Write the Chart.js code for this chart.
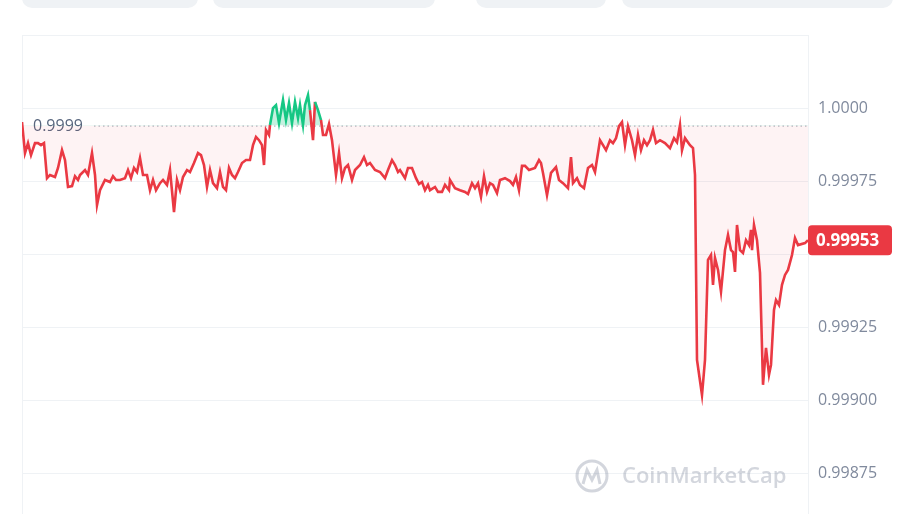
<!DOCTYPE html>
<html><head><meta charset="utf-8">
<script src="https://cdn.jsdelivr.net/npm/chart.js@4"></script>
<style>
html,body{margin:0;padding:0;background:#fff;overflow:hidden}
#wrap{position:relative;width:901px;height:514px;overflow:hidden}
.tab{position:absolute;top:-12px;height:20px;background:#eff2f5;border-radius:10px;z-index:2}
canvas{position:absolute;left:0;top:0}
</style></head><body>
<div id="wrap">
<div class="tab" style="left:22px;width:176px"></div>
<div class="tab" style="left:213px;width:222px"></div>
<div class="tab" style="left:476px;width:130px"></div>
<div class="tab" style="left:622px;width:271px"></div>
<canvas id="c" width="901" height="535"></canvas>
</div>
<script>
const times = [0,3,6,9,13,16,19,22,25,28,33,36,40,43,46,50,53,56,58,63,66,70,73,75,78,83,88,91,94,98,103,106,109,112,115,118,121,125,128,131,134,138,141,145,148,152,155,158,161,165,168,172,176,179,182,185,188,191,195,198,201,204,207,210,213,216,220,224,228,231,234,237,240,242,244,247,248,251,254,257,261,264,267,270,273,276,278,281,283,286,288,291,293,296,299,301,304,307,310,314,317,320,323,326,330,333,338,342,345,348,353,358,363,366,370,373,376,378,383,386,390,394,397,400,403,406,408,413,416,420,423,427,428,433,438,443,446,450,453,456,459,462,465,468,471,475,478,483,488,491,494,497,500,503,507,513,517,519,521,525,529,534,537,541,546,549,551,555,558,562,566,570,573,576,578,581,584,588,591,594,597,600,603,606,610,613,616,619,622,625,628,631,634,638,643,648,652,655,658,660,663,668,671,673,675,680,683,686,689,691,693,696,699,703,706,709,711,713,715,718,721,724,727,729,730,732,735,738,741,744,747,749,752,754,757,760,763,766,770,773,776,783,786];
const prices = [0.999952,0.999846,0.999880,0.999839,0.999880,0.999880,0.999873,0.999880,0.999760,0.999771,0.999764,0.999795,0.999856,0.999822,0.999730,0.999733,0.999767,0.999754,0.999771,0.999788,0.999771,0.999846,0.999771,0.999668,0.999719,0.999754,0.999747,0.999767,0.999754,0.999754,0.999760,0.999788,0.999760,0.999795,0.999781,0.999829,0.999771,0.999771,0.999719,0.999754,0.999719,0.999743,0.999754,0.999737,0.999788,0.999644,0.999754,0.999719,0.999764,0.999788,0.999781,0.999812,0.999846,0.999839,0.999805,0.999730,0.999788,0.999743,0.999726,0.999781,0.999730,0.999719,0.999795,0.999771,0.999760,0.999781,0.999812,0.999822,0.999822,0.999873,0.999901,0.999890,0.999873,0.999805,0.999925,0.999908,0.999942,1.000000,1.000010,0.999949,1.000027,0.999959,1.000017,0.999949,1.000021,0.999966,1.000010,0.999942,1.000010,1.000044,0.999993,0.999890,1.000021,0.999993,0.999959,0.999908,0.999908,0.999945,0.999890,0.999771,0.999846,0.999760,0.999795,0.999805,0.999754,0.999788,0.999805,0.999832,0.999805,0.999812,0.999788,0.999781,0.999760,0.999788,0.999822,0.999805,0.999781,0.999788,0.999760,0.999795,0.999795,0.999760,0.999740,0.999747,0.999719,0.999737,0.999719,0.999730,0.999713,0.999713,0.999737,0.999719,0.999754,0.999726,0.999719,0.999713,0.999706,0.999743,0.999726,0.999743,0.999696,0.999767,0.999713,0.999743,0.999737,0.999709,0.999754,0.999760,0.999750,0.999737,0.999764,0.999719,0.999802,0.999802,0.999788,0.999795,0.999822,0.999812,0.999778,0.999702,0.999778,0.999798,0.999754,0.999743,0.999726,0.999832,0.999743,0.999760,0.999737,0.999726,0.999795,0.999805,0.999781,0.999846,0.999890,0.999873,0.999856,0.999890,0.999880,0.999897,0.999938,0.999952,0.999873,0.999938,0.999890,0.999839,0.999908,0.999856,0.999890,0.999873,0.999890,0.999925,0.999880,0.999890,0.999880,0.999863,0.999897,0.999883,0.999942,0.999856,0.999897,0.999873,0.999863,0.999771,0.999138,0.999018,0.999138,0.999480,0.999497,0.999395,0.999487,0.999446,0.999371,0.999514,0.999566,0.999514,0.999507,0.999439,0.999600,0.999514,0.999504,0.999548,0.999531,0.999583,0.999514,0.999600,0.999548,0.999436,0.999053,0.999179,0.999087,0.999121,0.999309,0.999343,0.999326,0.999395,0.999429,0.999446,0.999497,0.999555,0.999531,0.999538,0.999548];
const baseline = 0.99994;
const baseLabel = '0.9999';
const currentLabel = '0.99953';
const RED='#ea3943', GREEN='#16c784';

const overlay = {
  id:'overlay',
  beforeDatasetsDraw(chart){
    const {ctx, chartArea:a, scales:{y}} = chart;
    ctx.save();
    ctx.strokeStyle='#eff2f5'; ctx.lineWidth=1;
    [a.left+0.5, a.right+0.5].forEach(x=>{ctx.beginPath();ctx.moveTo(x,a.top);ctx.lineTo(x,a.bottom);ctx.stroke();});
    const by = y.getPixelForValue(baseline);
    ctx.strokeStyle='#a0a7b3'; ctx.setLineDash([1.5,3]);
    ctx.beginPath(); ctx.moveTo(a.left+72, by+0.5); ctx.lineTo(a.right, by+0.5); ctx.stroke();
    ctx.setLineDash([]);
    ctx.font='16px "Open Sans", Inter, sans-serif'; ctx.fillStyle='#58667e'; ctx.textBaseline='middle';
    ctx.fillText(baseLabel, a.left+11, by+1);
    ctx.font='600 22px "Open Sans", sans-serif'; ctx.fillStyle='rgba(128,138,157,0.35)';
    ctx.fillText('CoinMarketCap', 622, 477);
    ctx.strokeStyle='rgba(128,138,157,0.35)'; ctx.lineWidth=3;
    ctx.beginPath(); ctx.arc(592,476,15,0,Math.PI*2); ctx.stroke();
    ctx.beginPath(); ctx.moveTo(583,484); ctx.lineTo(587,470); ctx.lineTo(592,480); ctx.lineTo(597,470); ctx.lineTo(600,484); ctx.stroke();
    ctx.restore();
  },
  afterDraw(chart){
    const {ctx, scales:{y}} = chart;
    const v = prices[prices.length-1];
    const py = y.getPixelForValue(v);
    ctx.save();
    ctx.fillStyle=RED;
    ctx.beginPath(); ctx.roundRect(808, py-15, 84, 30, 4); ctx.fill();
    ctx.fillStyle='#fff'; ctx.font='bold 17px "Open Sans", sans-serif'; ctx.textBaseline='middle';
    ctx.fillText(currentLabel, 816, py+1);
    ctx.restore();
  }
};

new Chart(document.getElementById('c'), {
  type:'line',
  data:{datasets:[{
    data: times.map((t,i)=>({x:t,y:prices[i]})),
    borderColor:RED, borderWidth:2.6, pointRadius:0, tension:0,
    segment:{borderColor:c=> (c.p0.parsed.y>=baseline && c.p1.parsed.y>=baseline)?GREEN:RED},
    fill:{target:{value:baseline}, above:'rgba(22,199,132,0.25)', below:'rgba(234,57,67,0.06)'}
  }]},
  plugins:[overlay],
  options:{
    responsive:false, animation:false, devicePixelRatio:1,
    layout:{padding:{left:22,top:35,right:0,bottom:0}},
    plugins:{legend:{display:false}, tooltip:{enabled:false}},
    scales:{
      x:{type:'linear', min:0, max:786, display:false},
      y:{position:'right', min:0.998606, max:1.00025,
        afterFit(s){s.width=93;},
        afterBuildTicks(s){s.ticks=[0.99875,0.999,0.99925,0.9995,0.99975,1.0,1.00025].map(v=>({value:v}));},
        border:{display:false},
        grid:{color:'#eff2f5', drawTicks:false},
        ticks:{padding:10, color:'#808a9d', font:{size:16, family:'"Open Sans", sans-serif'},
          callback:v=> (v>1.0001 || Math.abs(v-0.9995)<1e-7) ? '' : (v===1 ? '1.0000' : v.toFixed(5))}
      }
    }
  }
});
</script></body></html>
